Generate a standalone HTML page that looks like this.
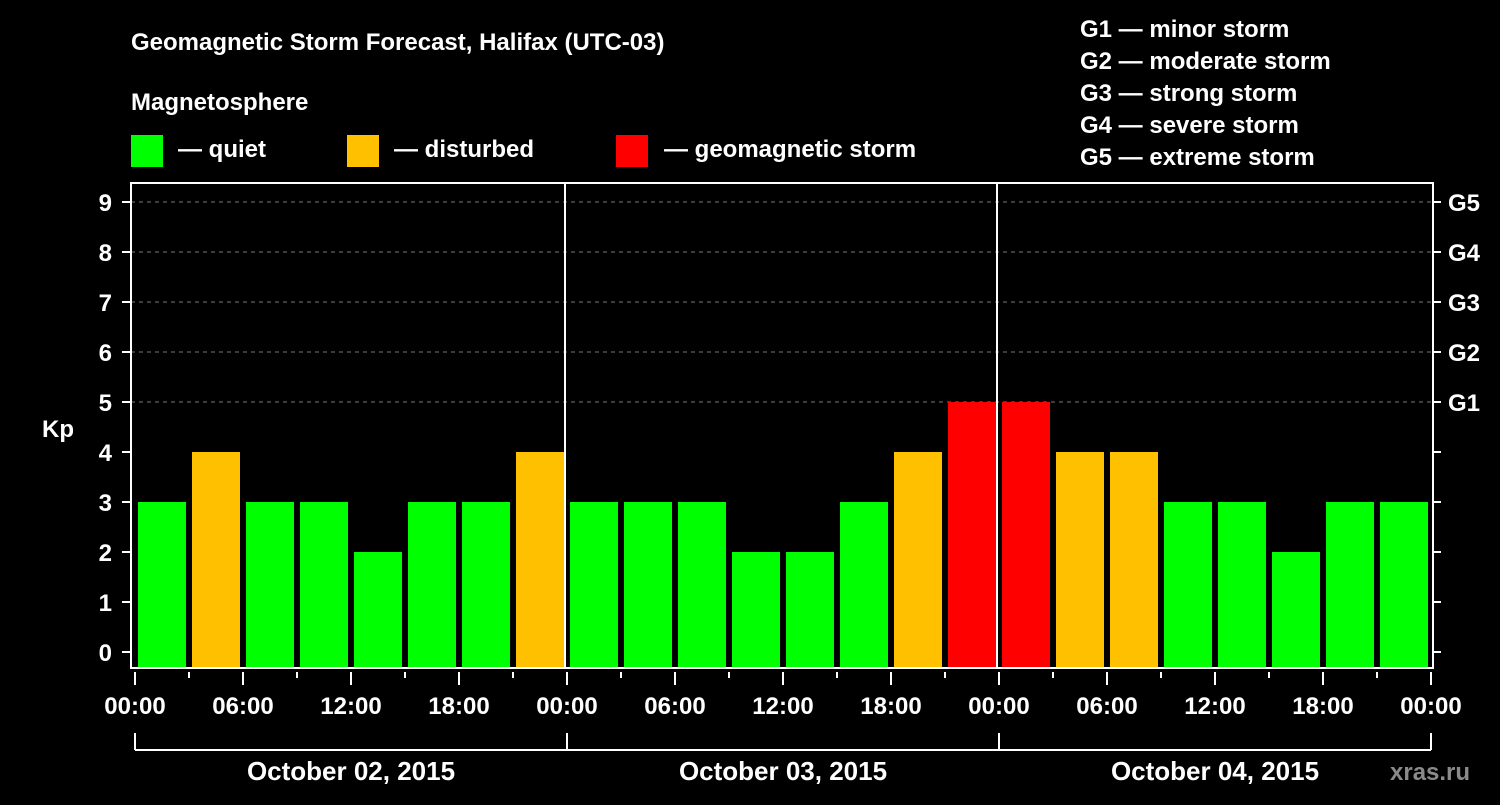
<!DOCTYPE html>
<html><head><meta charset="utf-8"><style>
body{margin:0;background:#000;width:1500px;height:800px;overflow:hidden}
svg text{font-family:"Liberation Sans",sans-serif;font-weight:bold;fill:#fff}
</style></head><body>
<svg id="c" width="1500" height="800" xmlns="http://www.w3.org/2000/svg">
<text x="131" y="50" font-size="24">Geomagnetic Storm Forecast, Halifax (UTC-03)</text>
<text x="131" y="110" font-size="24">Magnetosphere</text>
<rect x="131" y="135" width="32" height="32" fill="#00ff00"/>
<text x="178" y="157" font-size="24">— quiet</text>
<rect x="347" y="135" width="32" height="32" fill="#ffc000"/>
<text x="394" y="157" font-size="24">— disturbed</text>
<rect x="616" y="135" width="32" height="32" fill="#ff0000"/>
<text x="664" y="157" font-size="24">— geomagnetic storm</text>
<g font-size="24">
<text x="1080" y="37">G1 — minor storm</text>
<text x="1080" y="69">G2 — moderate storm</text>
<text x="1080" y="101">G3 — strong storm</text>
<text x="1080" y="133">G4 — severe storm</text>
<text x="1080" y="165">G5 — extreme storm</text>
</g>
<text x="42" y="437" font-size="24">Kp</text>
<text x="1390" y="780" font-size="24" fill="#888" style="fill:#8a8a8a">xras.ru</text>
<g id="plot"></g>
</svg>
<script>
const kpValues=[3,4,3,3,2,3,3,4, 3,3,3,2,2,3,4,5, 5,4,4,3,3,2,3,3];
const dayLabels=["October 02, 2015","October 03, 2015","October 04, 2015"];
const hourLabels=["00:00","06:00","12:00","18:00"];
const yTicks=[0,1,2,3,4,5,6,7,8,9];
const gLabels=["G1","G2","G3","G4","G5"];
const L=131,R=1433,T=183,B=668,X0=135,slot=54;
const xs=i=>X0+i*slot;
const ys=v=>652-50*v;
const NS="http://www.w3.org/2000/svg";
const g=document.getElementById('plot');
function mk(t,a){const e=document.createElementNS(NS,t);for(const k in a)e.setAttribute(k,a[k]);g.appendChild(e);return e;}
// grid
for(let v=5;v<=9;v++){const e=mk('line',{x1:L,x2:R,y1:ys(v),y2:ys(v),stroke:'#777','stroke-dasharray':'4,4','stroke-width':1});

}
// bars
kpValues.forEach((v,i)=>{const col=v>=5?'#ff0000':(v>=4?'#ffc000':'#00ff00');
const r=mk('rect',{x:xs(i)+3,y:ys(v),width:48,height:B-ys(v),fill:col});

});
// day separators
for(let d=1;d<dayLabels.length;d++){const e=mk('line',{x1:xs(d*8)-2,x2:xs(d*8)-2,y1:T,y2:B,stroke:'#fff','stroke-width':2});

}
// frame
const f=mk('rect',{x:L,y:T,width:R-L,height:B-T,fill:'none',stroke:'#fff','stroke-width':2});


// y ticks
yTicks.forEach(v=>{mk('line',{x1:122,x2:L,y1:ys(v),y2:ys(v),stroke:'#fff','stroke-width':2});
mk('line',{x1:R,x2:1441,y1:ys(v),y2:ys(v),stroke:'#fff','stroke-width':2});
const t=mk('text',{x:112,y:ys(v)+9,'font-size':24,'text-anchor':'end'});t.textContent=v;

});
gLabels.forEach((s,i)=>{const t=mk('text',{x:1448,y:ys(5+i)+9,'font-size':24});t.textContent=s;

});
// x ticks
for(let i=0;i<=kpValues.length;i++){const major=i%2==0;
mk('line',{x1:xs(i),x2:xs(i),y1:672,y2:major?685:678,stroke:'#fff','stroke-width':2});
if(major){const t=mk('text',{x:xs(i),y:714,'font-size':24,'text-anchor':'middle'});t.textContent=hourLabels[(i/2)%4];

}}
// day brackets
dayLabels.forEach((s,d)=>{const a=xs(d*8),b=xs(d*8+8);
mk('line',{x1:a,x2:a,y1:733,y2:750,stroke:'#fff','stroke-width':2});
mk('line',{x1:a,x2:b,y1:750,y2:750,stroke:'#fff','stroke-width':2});
if(d==dayLabels.length-1)mk('line',{x1:b,x2:b,y1:733,y2:750,stroke:'#fff','stroke-width':2});
const t=mk('text',{x:(a+b)/2,y:780,'font-size':26,'text-anchor':'middle'});t.textContent=s;

});
</script>
</body></html>
